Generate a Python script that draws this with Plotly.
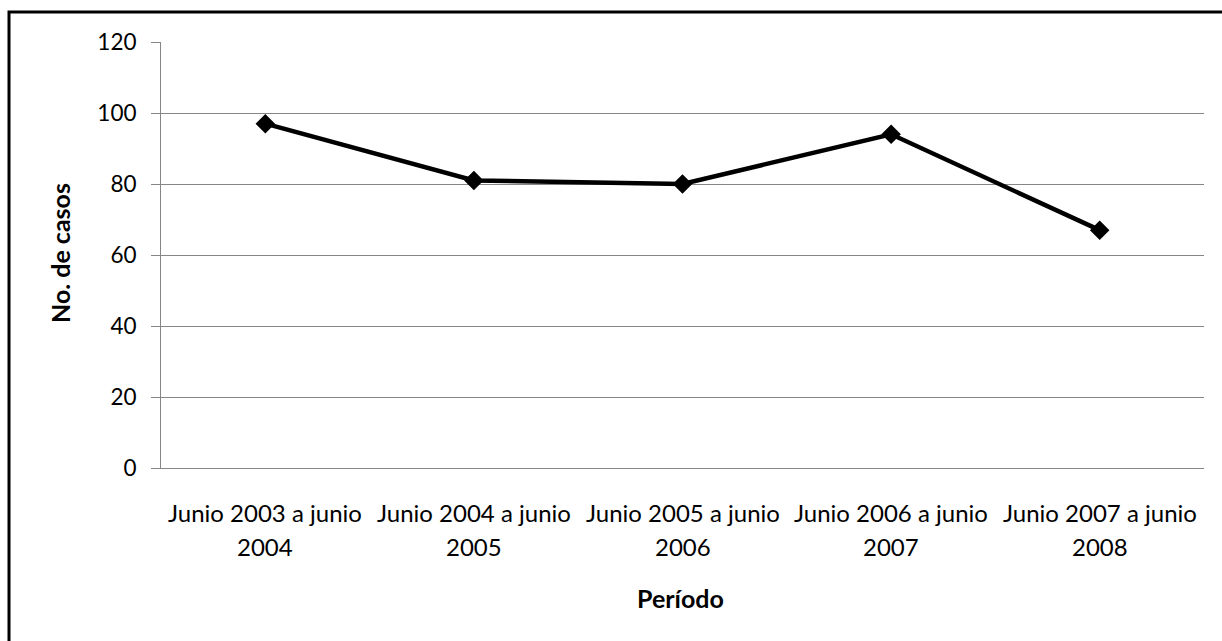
import plotly.graph_objects as go

# Periods (two-line category labels) and number of cases per period
periodo_linea1 = ["Junio 2003 a junio", "Junio 2004 a junio", "Junio 2005 a junio",
                  "Junio 2006 a junio", "Junio 2007 a junio"]
periodo_linea2 = ["2004", "2005", "2006", "2007", "2008"]
casos = [97, 81, 80, 94, 67]
y_ticks = [0, 20, 40, 60, 80, 100, 120]

categorias = [f"{a} {b}" for a, b in zip(periodo_linea1, periodo_linea2)]

FONT = "Lato, 'Open Sans', sans-serif"
GRID = "#868686"

# Plot-area geometry in pixels
W, H = 1222, 641
ML, MR, MT, MB = 161, 18, 42, 173
PW, PH = W - ML - MR, H - MT - MB


def px_x(x):
    return (x - ML) / PW


def px_y(y):
    return 1 - (y - MT) / PH


fig = go.Figure()
fig.add_trace(go.Scatter(
    x=categorias, y=casos, mode="lines+markers",
    line=dict(color="black", width=4.5),
    marker=dict(symbol="diamond", size=15, color="black"),
    showlegend=False, hoverinfo="x+y",
))

fig.update_layout(
    width=W, height=H,
    margin=dict(l=ML, r=MR, t=MT, b=MB),
    paper_bgcolor="white", plot_bgcolor="white",
    font=dict(family=FONT, size=22, color="black"),
    xaxis=dict(
        type="category", range=[-0.5, len(categorias) - 0.5],
        showticklabels=False, showgrid=False,
        showline=True, linecolor=GRID, linewidth=1, zeroline=False, ticks="",
    ),
    yaxis=dict(
        range=[0, 120], tickvals=y_ticks, ticks="outside", ticklen=9,
        tickcolor=GRID, tickwidth=1, showgrid=True, gridcolor=GRID, gridwidth=1,
        showline=True, linecolor=GRID, linewidth=1, zeroline=False,
        ticklabelstandoff=10, tickfont=dict(family=FONT, size=22.5),
    ),
)

# Two-line category labels under each point
for cat, l1, l2 in zip(categorias, periodo_linea1, periodo_linea2):
    fig.add_annotation(x=cat, y=px_y(512), xref="x", yref="paper", text=l1,
                       showarrow=False, font=dict(family=FONT, size=24),
                       xanchor="center", yanchor="middle")
    fig.add_annotation(x=cat, y=px_y(546), xref="x", yref="paper", text=l2,
                       showarrow=False, font=dict(family=FONT, size=24),
                       xanchor="center", yanchor="middle")

# Axis titles
fig.add_annotation(x=px_x(680), y=px_y(598), xref="paper", yref="paper",
                   text="<b>Período</b>", showarrow=False,
                   xanchor="center", yanchor="middle",
                   font=dict(family=FONT, size=25))
fig.add_annotation(x=px_x(60), y=px_y(253), xref="paper", yref="paper",
                   text="<b>No. de casos</b>", textangle=-90, showarrow=False,
                   xanchor="center", yanchor="middle",
                   font=dict(family=FONT, size=25))

# Chart-area frame (left and top edges fall inside the page)
fig.add_shape(type="rect", xref="paper", yref="paper",
              x0=px_x(9), x1=px_x(W + 3), y0=px_y(H + 3), y1=px_y(12),
              line=dict(color="black", width=3), layer="above")

fig.write_html("out.html")
